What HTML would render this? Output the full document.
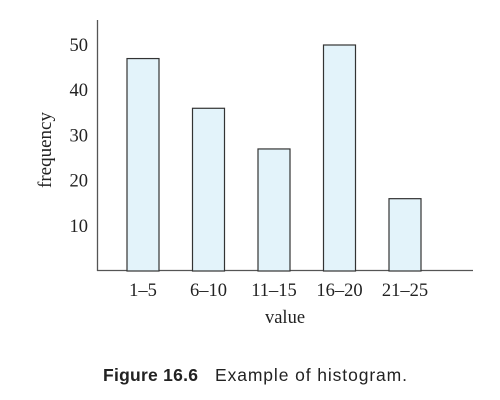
<!DOCTYPE html>
<html><head><meta charset="utf-8"><style>
body{margin:0;background:#fff;width:500px;height:400px;overflow:hidden}
svg{display:block}
.t{font-family:"Liberation Serif",serif;fill:#222}
</style></head><body>
<svg id="chart" width="500" height="400">
<line x1="97.5" y1="20" x2="97.5" y2="271" stroke="#555" stroke-width="1.3"/>
<line x1="97" y1="270.5" x2="473" y2="270.5" stroke="#555" stroke-width="1.3"/>
<text class="t" x="0" y="0" font-size="19" text-anchor="middle" transform="translate(51,150) rotate(-90)">frequency</text>
<text class="t" x="285" y="323" font-size="18.5" text-anchor="middle">value</text>
<text y="381" font-family="Liberation Sans,sans-serif" font-size="17.5" fill="#222"><tspan x="103" font-weight="bold" textLength="95">Figure 16.6</tspan><tspan x="215" textLength="192">Example of histogram.</tspan></text>
</svg>
<script>
const categories=["1\u20135","6\u201310","11\u201315","16\u201320","21\u201325"];
const values=[47,36,27,50,16];
const yTicks=[10,20,30,40,50];
const svg=document.getElementById('chart');
const NS='http://www.w3.org/2000/svg';
const y=v=>271-v*4.52;
const x=i=>143+i*65.5;
function mk(t,a){const e=document.createElementNS(NS,t);for(const k in a)e.setAttribute(k,a[k]);svg.appendChild(e);return e;}
yTicks.forEach(v=>{
 const e=mk('text',{class:'t',x:88,y:y(v)+6,'font-size':18.5,'text-anchor':'end'});
 e.textContent=v;
 
 
});
categories.forEach((c,i)=>{
 const r=mk('rect',{x:x(i)-16,y:y(values[i]),width:32,height:271-y(values[i]),fill:'#e3f3fa',stroke:'#333','stroke-width':1.2});
 
 
 const t=mk('text',{class:'t',x:x(i),y:296,'font-size':18.5,'text-anchor':'middle'});
 t.textContent=c;
 
 
});
</script>
</body></html>
